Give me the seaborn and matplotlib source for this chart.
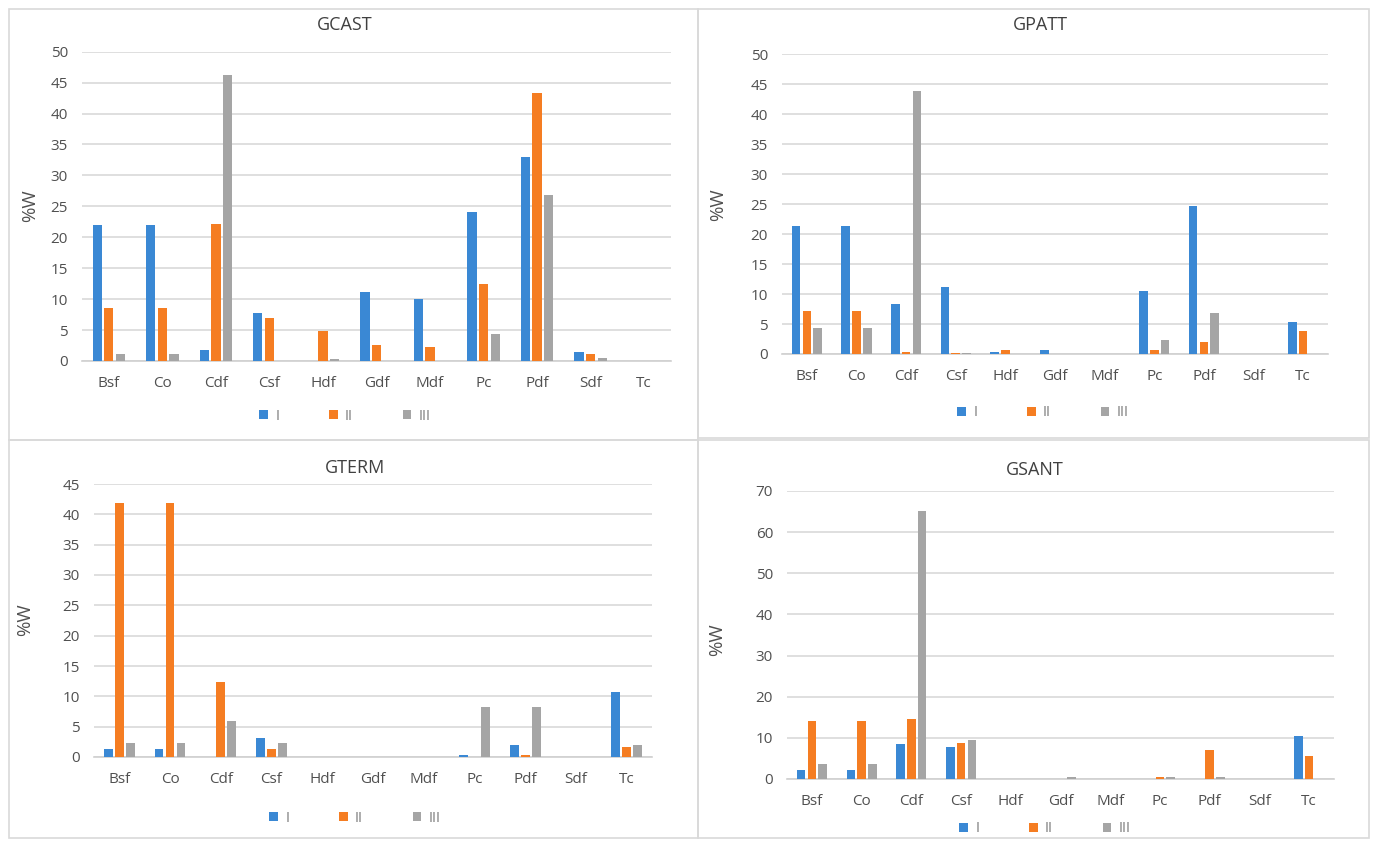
import matplotlib
matplotlib.use("Agg")
import matplotlib.pyplot as plt
from matplotlib.patches import Rectangle, Patch
import seaborn as sns
import pandas as pd

categories = ["Bsf", "Co", "Cdf", "Csf", "Hdf", "Gdf", "Mdf", "Pc", "Pdf", "Sdf", "Tc"]
series_names = ["I", "II", "III"]

gcast_I = [22.0, 22.0, 1.8, 7.7, 0.0, 11.1, 10.1, 24.1, 32.9, 1.5, 0.0]
gcast_II = [8.5, 8.5, 22.2, 7.0, 4.9, 2.6, 2.3, 12.5, 43.3, 1.1, 0.0]
gcast_III = [1.1, 1.1, 46.2, 0.0, 0.3, 0.0, 0.0, 4.4, 26.8, 0.5, 0.0]

gpatt_I = [21.4, 21.4, 8.3, 11.2, 0.4, 0.6, 0.0, 10.5, 24.7, 0.0, 5.4]
gpatt_II = [7.1, 7.1, 0.4, 0.2, 0.7, 0.0, 0.0, 0.7, 2.0, 0.0, 3.8]
gpatt_III = [4.3, 4.3, 43.8, 0.2, 0.0, 0.0, 0.0, 2.3, 6.9, 0.0, 0.0]

gterm_I = [1.3, 1.3, 0.0, 3.1, 0.0, 0.0, 0.0, 0.3, 1.9, 0.0, 10.7]
gterm_II = [41.9, 41.9, 12.3, 1.3, 0.0, 0.0, 0.0, 0.0, 0.3, 0.0, 1.7]
gterm_III = [2.3, 2.3, 5.9, 2.3, 0.0, 0.0, 0.0, 8.3, 8.3, 0.0, 1.9]

gsant_I = [2.2, 2.2, 8.4, 7.8, 0.0, 0.0, 0.0, 0.0, 0.0, 0.0, 10.4]
gsant_II = [14.0, 14.0, 14.6, 8.7, 0.0, 0.0, 0.0, 0.5, 7.0, 0.0, 5.7]
gsant_III = [3.7, 3.7, 65.2, 9.5, 0.0, 0.6, 0.0, 0.5, 0.5, 0.0, 0.0]

colors = ["#3a88d4", "#f57d22", "#a5a5a5"]

sns.set_style("white")
plt.rcParams["font.family"] = ["Open Sans", "DejaVu Sans"]

W, H = 1375, 841
fig = plt.figure(figsize=(W / 100, H / 100), dpi=100)

def fx(x):
    return x / W

def fy(y):
    return 1 - y / H

panels = [
    dict(title="GCAST", data=(gcast_I, gcast_II, gcast_III), ymax=50, step=5,
         box=(9, 9, 698, 440), ax=(82, 51.7, 671, 361), title_xy=(345, 25),
         ylab_xy=(30, 206), leg_xy=(345, 416)),
    dict(title="GPATT", data=(gpatt_I, gpatt_II, gpatt_III), ymax=50, step=5,
         box=(698, 9, 1369, 438), ax=(782, 54, 1328, 354), title_xy=(1040, 25),
         ylab_xy=(718, 205), leg_xy=(1043, 413)),
    dict(title="GTERM", data=(gterm_I, gterm_II, gterm_III), ymax=45, step=5,
         box=(9, 440, 698, 838), ax=(94, 484, 652, 757), title_xy=(355, 468),
         ylab_xy=(25, 620), leg_xy=(355, 818)),
    dict(title="GSANT", data=(gsant_I, gsant_II, gsant_III), ymax=70, step=10,
         box=(698, 440, 1369, 838), ax=(787, 491, 1334, 779), title_xy=(1035, 470),
         ylab_xy=(717, 640), leg_xy=(1045, 829)),
]

text_col = "#505050"
grid_col = "#d9d9d9"

for p in panels:
    x0, y0, x1, y1 = p["box"]
    fig.add_artist(Rectangle((fx(x0), fy(y1)), fx(x1) - fx(x0), fy(y0) - fy(y1),
                             transform=fig.transFigure, fill=False,
                             edgecolor="#d9d9d9", linewidth=1.2))
    ax0, ay0, ax1, ay1 = p["ax"]
    ax = fig.add_axes([fx(ax0), fy(ay1), fx(ax1) - fx(ax0), fy(ay0) - fy(ay1)])
    rows = []
    for s, vals in zip(series_names, p["data"]):
        for c, v in zip(categories, vals):
            rows.append({"cat": c, "series": s, "val": v})
    df = pd.DataFrame(rows)
    sns.barplot(data=df, x="cat", y="val", hue="series", order=categories,
                hue_order=series_names, palette=colors, width=0.65, gap=0.2,
                saturation=1, legend=False, ax=ax, zorder=3, linewidth=0)
    ax.set_ylim(0, p["ymax"])
    ax.set_xlim(-0.5, len(categories) - 0.5)
    ax.set_yticks(range(0, p["ymax"] + 1, p["step"]))
    ax.yaxis.grid(True, color=grid_col, linewidth=1.2, zorder=0)
    ax.set_axisbelow(True)
    for side in ["top", "right", "left"]:
        ax.spines[side].set_visible(False)
    ax.spines["bottom"].set_color("#d0d0d0")
    ax.spines["bottom"].set_linewidth(1.2)
    ax.tick_params(axis="both", length=0, labelsize=11, colors=text_col)
    ax.tick_params(axis="x", pad=11)
    ax.tick_params(axis="y", pad=10)
    ax.set_xlabel("")
    ax.set_ylabel("")
    fig.text(fx(p["title_xy"][0]), fy(p["title_xy"][1]), p["title"], ha="center",
             va="center", fontsize=13, color="#404040")
    fig.text(fx(p["ylab_xy"][0]), fy(p["ylab_xy"][1]), "%W", ha="center",
             va="center", rotation=90, fontsize=13.5, color=text_col)
    handles = [Patch(facecolor=c, edgecolor="none", label=s)
               for c, s in zip(colors, series_names)]
    fig.legend(handles=handles, loc="center",
               bbox_to_anchor=(fx(p["leg_xy"][0]), fy(p["leg_xy"][1])),
               ncol=3, frameon=False, fontsize=10.5, labelcolor="#7f7f7f",
               handlelength=0.6, handleheight=0.6, handletextpad=0.5,
               columnspacing=3.4)

fig.savefig("out.png", dpi=100, facecolor="white")
